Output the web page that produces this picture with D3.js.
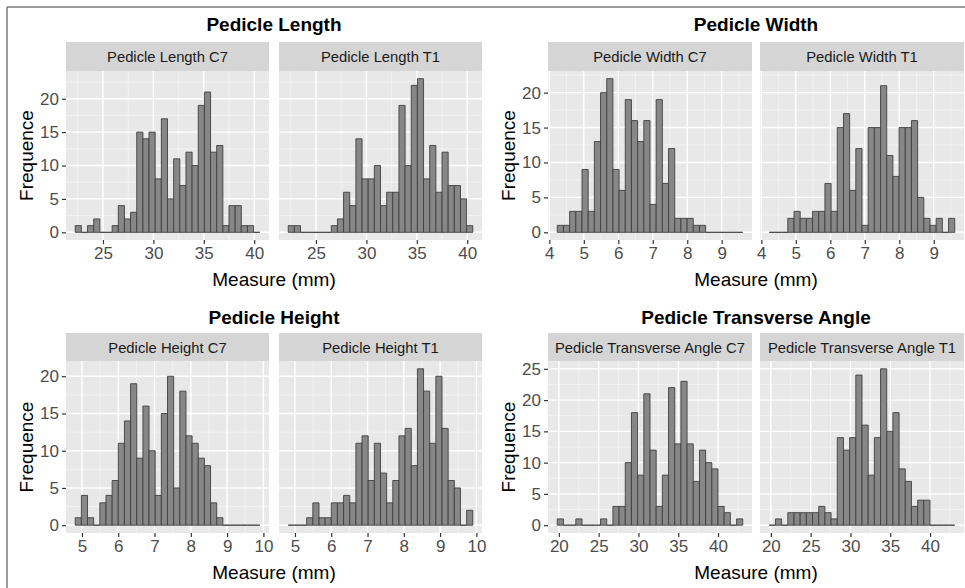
<!DOCTYPE html>
<html>
<head>
<meta charset="utf-8">
<script src="https://cdn.jsdelivr.net/npm/d3@7"></script>
<style>
  body { margin: 0; background: #fff; }
  svg { display: block; font-family: "Liberation Sans", Arial, sans-serif; }
  .axis path.domain { display: none; }
  .axis line { stroke: #333; }
  .axis text { fill: #4d4d4d; font-size: 17px; }
</style>
</head>
<body>
<svg id="chart" width="965" height="588"></svg>
<script>
// histogram counts (30 bins each)
var lengthC7 = [1,0,1,2,0,0,1,4,2,3,15,14,15,8,17,5,11,7,12,10,19,21,12,13,1,4,4,1,1,0];
var lengthT1 = [1,1,0,0,0,0,0,1,2,6,4,14,8,8,10,4,6,6,19,10,22,23,8,13,6,12,7,7,5,1];
var widthC7  = [1,1,3,3,9,3,13,20,22,9,6,19,16,13,16,4,19,7,12,2,2,2,1,1,0,0,0,0,0,0];
var widthT1  = [0,0,0,2,3,2,2,3,3,7,3,15,17,6,12,1,15,15,21,11,8,15,15,16,5,2,1,2,0,2];
var heightC7 = [1,4,1,0,3,4,6,11,14,19,9,16,10,4,15,20,5,18,12,11,9,8,3,1,0,0,0,0,0,0];
var heightT1 = [0,0,0,1,3,1,1,3,3,4,3,11,12,6,11,7,3,6,12,13,8,21,18,11,20,13,6,5,0,2];
var angleC7  = [1,0,0,1,0,0,0,1,0,3,3,10,18,8,21,12,3,8,22,13,23,13,7,12,10,9,3,2,0,1];
var angleT1  = [0,1,0,2,2,2,2,2,3,2,1,14,12,14,24,16,8,14,25,15,18,9,7,3,4,4,0,0,0,0];

// left edge of first bin and bin width (mm / degrees)
var binStarts = [22.25, 4.23, 4.815, 19.8];
var binWidths = [0.61, 0.1793, 0.1695, 0.7767];

var plotTitles = ["Pedicle Length", "Pedicle Width", "Pedicle Height", "Pedicle Transverse Angle"];
var facetLabels = [
  ["Pedicle Length C7", "Pedicle Length T1"],
  ["Pedicle Width C7", "Pedicle Width T1"],
  ["Pedicle Height C7", "Pedicle Height T1"],
  ["Pedicle Transverse Angle C7", "Pedicle Transverse Angle T1"]
];
var facetCounts = [
  [lengthC7, lengthT1],
  [widthC7, widthT1],
  [heightC7, heightT1],
  [angleC7, angleT1]
];
var xTickValues = [[25,30,35,40], [4,5,6,7,8,9], [5,6,7,8,9,10], [20,25,30,35,40]];
var yTickValues = [[0,5,10,15,20], [0,5,10,15,20], [0,5,10,15,20], [0,5,10,15,20,25]];

var xTitle = "Measure (mm)";
var yTitle = "Frequence";

// layout of the four sub plots
var cells = [
  {x0: 66,  pw: 203, gap: 10, titleY: 31,  stripY: 42,  panelY: 71,  panelB: 240},
  {x0: 548, pw: 204, gap: 8,  titleY: 31,  stripY: 42,  panelY: 71,  panelB: 240},
  {x0: 66,  pw: 203, gap: 10, titleY: 324, stripY: 333, panelY: 361, panelB: 533},
  {x0: 548, pw: 204, gap: 8,  titleY: 324, stripY: 333, panelY: 361, panelB: 533}
];

var svg = d3.select("#chart");

// outer frame (top and left edges only visible)
svg.append("line").attr("x1", 7).attr("y1", 7).attr("x2", 965).attr("y2", 7)
  .attr("stroke", "#7a7a7a").attr("stroke-width", 1.5);
svg.append("line").attr("x1", 7).attr("y1", 7).attr("x2", 7).attr("y2", 588)
  .attr("stroke", "#7a7a7a").attr("stroke-width", 1.5);

function minorBreaks(ticks, domain) {
  var step = ticks[1] - ticks[0];
  var out = [];
  for (var v = ticks[0] - step / 2; v <= ticks[ticks.length - 1] + step / 2 + 1e-9; v += step) {
    if (v >= domain[0] && v <= domain[1]) out.push(v);
  }
  return out;
}

cells.forEach(function(c, p) {
  var start = binStarts[p], bw = binWidths[p];
  var counts = facetCounts[p];
  var end = start + bw * counts[0].length;
  var xr = end - start;
  var xDomain = [start - 0.05 * xr, end + 0.05 * xr];
  var yMax = d3.max(counts, function(a) { return d3.max(a); });
  var yDomain = [-0.05 * yMax, yMax * 1.05];

  var y = d3.scaleLinear().domain(yDomain).range([c.panelB, c.panelY]);
  var stripH = c.panelY - c.stripY;
  var xMin = minorBreaks(xTickValues[p], xDomain);
  var yMin = minorBreaks(yTickValues[p], yDomain);

  // plot title
  var areaL = c.x0, areaR = c.x0 + 2 * c.pw + c.gap;
  svg.append("text")
    .attr("x", (areaL + areaR) / 2).attr("y", c.titleY)
    .attr("text-anchor", "middle")
    .attr("font-size", "19px").attr("font-weight", "bold").attr("fill", "#000")
    .text(plotTitles[p]);

  [0, 1].forEach(function(f) {
    var left = c.x0 + f * (c.pw + c.gap);
    var x = d3.scaleLinear().domain(xDomain).range([left, left + c.pw]);
    var g = svg.append("g");

    // strip
    g.append("rect").attr("x", left).attr("y", c.stripY)
      .attr("width", c.pw).attr("height", stripH).attr("fill", "#d5d5d5");
    g.append("text")
      .attr("x", left + c.pw / 2).attr("y", c.stripY + stripH / 2 + 5.5)
      .attr("text-anchor", "middle").attr("font-size", "14.8px").attr("fill", "#1a1a1a")
      .text(facetLabels[p][f]);

    // panel
    g.append("rect").attr("x", left).attr("y", c.panelY)
      .attr("width", c.pw).attr("height", c.panelB - c.panelY).attr("fill", "#e8e8e8");

    g.selectAll(".xminor").data(xMin).enter().append("line")
      .attr("x1", function(d) { return x(d); }).attr("x2", function(d) { return x(d); })
      .attr("y1", c.panelY).attr("y2", c.panelB)
      .attr("stroke", "#f6f6f6").attr("stroke-width", 0.7);
    g.selectAll(".yminor").data(yMin).enter().append("line")
      .attr("y1", function(d) { return y(d); }).attr("y2", function(d) { return y(d); })
      .attr("x1", left).attr("x2", left + c.pw)
      .attr("stroke", "#f6f6f6").attr("stroke-width", 0.7);
    g.selectAll(".xmajor").data(xTickValues[p]).enter().append("line")
      .attr("x1", function(d) { return x(d); }).attr("x2", function(d) { return x(d); })
      .attr("y1", c.panelY).attr("y2", c.panelB)
      .attr("stroke", "#fff").attr("stroke-width", 1.4);
    g.selectAll(".ymajor").data(yTickValues[p]).enter().append("line")
      .attr("y1", function(d) { return y(d); }).attr("y2", function(d) { return y(d); })
      .attr("x1", left).attr("x2", left + c.pw)
      .attr("stroke", "#fff").attr("stroke-width", 1.4);

    // bars (path, so empty bins still show their outline)
    g.selectAll(".bar").data(counts[f]).enter().append("path")
      .attr("d", function(d, i) {
        var a = x(start + i * bw), b = x(start + (i + 1) * bw);
        return "M" + a + "," + y(0) + "H" + b + "V" + y(d) + "H" + a + "Z";
      })
      .attr("fill", "#878787").attr("stroke", "#404040").attr("stroke-width", 0.9);

    // x axis
    var xa = g.append("g").attr("class", "axis")
      .attr("transform", "translate(0," + c.panelB + ")")
      .call(d3.axisBottom(x).tickValues(xTickValues[p]).tickFormat(d3.format("d"))
        .tickSize(4).tickPadding(3));
    xa.selectAll("line").attr("stroke-width", 1.2);

    if (f == 0) {
      var ya = g.append("g").attr("class", "axis")
        .attr("transform", "translate(" + left + ",0)")
        .call(d3.axisLeft(y).tickValues(yTickValues[p]).tickFormat(d3.format("d"))
          .tickSize(4).tickPadding(3));
      ya.selectAll("line").attr("stroke-width", 1.2);
    }
  });

  // axis titles
  svg.append("text")
    .attr("x", (areaL + areaR) / 2).attr("y", c.panelB + 46)
    .attr("text-anchor", "middle").attr("font-size", "19px").attr("fill", "#000")
    .text(xTitle);
  svg.append("text")
    .attr("transform", "translate(" + (c.x0 - 33) + "," + ((c.panelY + c.panelB) / 2) + ") rotate(-90)")
    .attr("text-anchor", "middle").attr("font-size", "19px").attr("fill", "#000")
    .text(yTitle);
});
</script>
</body>
</html>
